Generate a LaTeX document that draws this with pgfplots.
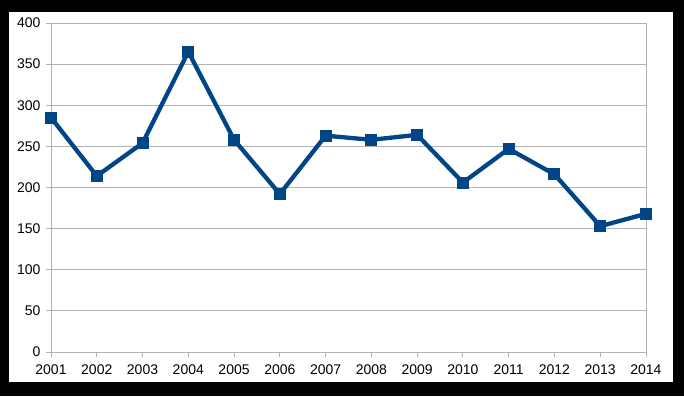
\documentclass[border=0pt]{standalone}
\usepackage{pgfplots}
\pgfplotsset{compat=1.18}
\usepackage{fontspec}
\setmainfont{Liberation Sans}
\definecolor{lineblue}{HTML}{004586}
\definecolor{gridgray}{HTML}{B3B3B3}
\begin{document}
\begin{tikzpicture}[x=1bp,y=1bp]
\fill[black] (0,0) rectangle (684,396);
\fill[white] (9,14) rectangle (673,384);
\begin{axis}[
  at={(51bp,44bp)}, anchor=south west,
  scale only axis, width=595bp, height=329bp,
  xmin=2001, xmax=2014, ymin=0, ymax=400,
  ytick={0,50,...,400},
  xtick={2001,2002,...,2014},
  xticklabels={2001,2002,2003,2004,2005,2006,2007,2008,2009,2010,2011,2012,2013,2014},
  ymajorgrids, xmajorgrids=false,
  grid style={gridgray, line width=0.9bp},
  axis line style={gridgray, line width=0.9bp},
  tick style={gridgray, line width=0.9bp},
  tick align=outside, major tick length=5bp,
  xtick pos=bottom, ytick pos=left,
  /pgf/number format/assume math mode=true,
  tick label style={font=\fontsize{14bp}{16bp}\selectfont, text=black},
  xticklabel style={yshift=-4bp},
  yticklabel style={xshift=-2bp},
  clip=false,
]
\addplot[lineblue, line width=4.3bp, mark=square*, mark size=5.5bp, mark options={solid, fill=lineblue, line width=0bp}]
coordinates {
(2001,285) (2002,214) (2003,254) (2004,365) (2005,258) (2006,192) (2007,263)
(2008,258) (2009,264) (2010,206) (2011,247) (2012,216) (2013,153) (2014,168)
};
\end{axis}
\end{tikzpicture}
\end{document}
